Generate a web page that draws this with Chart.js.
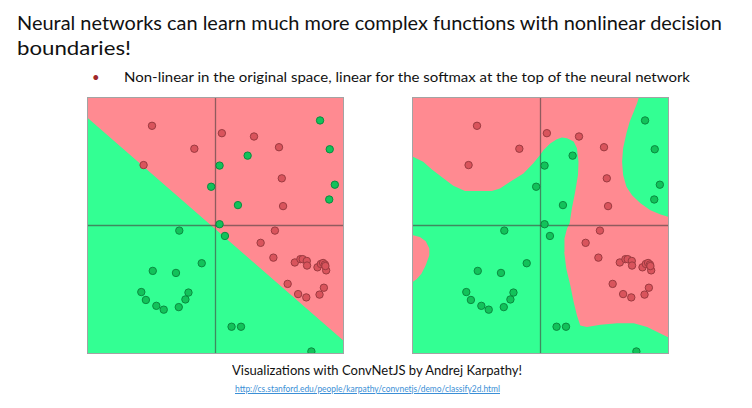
<!DOCTYPE html>
<html><head><meta charset="utf-8">
<script src="https://cdn.jsdelivr.net/npm/chart.js@4"></script>
<style>
html,body{margin:0;padding:0;background:#fff;width:752px;height:408px;overflow:hidden;}
.t{position:absolute;white-space:nowrap;font-family:Lato,"Open Sans",sans-serif;color:#111;transform-origin:0 0;line-height:1;}
.box{position:absolute;width:265px;height:265px;}
</style></head><body>
<div class="t" id="t1" data-w="705" style="left:17px;top:13px;font-size:19.5px;">Neural networks can learn much more complex functions with nonlinear decision</div>
<div class="t" id="t2" data-w="114" style="left:17px;top:38px;font-size:19.5px;">boundaries!</div>
<div class="t" style="left:92px;top:71px;font-size:13px;color:#a0282a;">•</div>
<div class="t" id="t3" data-w="566" style="left:124px;top:70.5px;font-size:13px;">Non-linear in the original space, linear for the softmax at the top of the neural network</div>
<div class="t" id="t4" data-w="290" style="left:232px;top:363px;font-size:14px;">Visualizations with ConvNetJS by Andrej Karpathy!</div>
<div class="t" id="t5" data-w="265" style="left:235px;top:383.5px;font-size:9px;color:#3b8fd6;text-decoration:underline;">http://cs.stanford.edu/people/karpathy/convnetjs/demo/classify2d.html</div>
<div class="box" style="left:83px;top:93px;"><canvas id="c1" width="265" height="265"></canvas></div>
<div class="box" style="left:408px;top:93px;"><canvas id="c2" width="265" height="265"></canvas></div>
<script>
// ---- data (range -5..5 on both axes) ----
const redPoints = [
 [-2.49,3.91],[-0.83,3.01],[-2.82,2.37],[0.25,3.62],[1.51,3.49],[2.49,3.07],[2.60,1.85],[2.65,0.76],
 [2.33,-0.20],[1.77,-0.68],[2.27,-1.26],[3.11,-1.45],[3.33,-1.32],[3.42,-1.32],[3.58,-1.39],[3.59,-1.57],
 [4.00,-1.64],[4.13,-1.51],[4.22,-1.47],[4.29,-1.53],[4.34,-1.76],[4.31,-1.59],[2.83,-2.29],[3.24,-2.69],
 [3.56,-2.82],[4.08,-2.71],[4.25,-2.44]
];
const greenPoints = [
 [4.10,4.12],[4.48,2.99],[1.26,2.74],[0.16,2.35],[-0.17,1.52],[0.88,0.80],[4.68,1.60],[4.46,1.02],
 [0.16,0.05],[0.37,-0.41],[-1.42,-0.20],[-0.54,-1.48],[-2.46,-1.78],[-1.55,-1.86],[-2.91,-2.61],[-2.73,-2.92],
 [-1.06,-2.63],[-1.18,-2.90],[-2.32,-3.15],[-2.03,-3.30],[-1.44,-3.20],[0.63,-3.97],[1.00,-3.97],[3.76,-4.94]
];
// linear classifier: red region
const linearRedRegion = [[-5,5],[5,5],[5,-4.5],[-5,4.21]];
// neural network: red regions
const nnRedRegion = [
 [-5,5],[3.85,5],[3.79,4.80],[3.66,4.47],[3.50,4.08],[3.37,3.62],[3.24,3.03],[3.20,2.50],[3.24,1.98],
 [3.37,1.52],[3.59,1.19],[3.92,0.87],[4.31,0.60],[4.71,0.43],[5,0.34],[5,-4.38],[4.64,-4.21],[4.18,-3.98],
 [3.66,-3.83],[3.00,-3.83],[2.35,-3.89],[1.82,-3.98],[1.56,-3.92],[1.43,-3.53],[1.30,-3.00],[1.17,-2.35],
 [1.01,-1.69],[0.93,-1.04],[0.94,-0.51],[1.04,-0.12],[1.14,0.08],[1.23,0.67],[1.36,1.32],[1.47,1.98],
 [1.49,2.50],[1.43,3.03],[1.30,3.29],[1.04,3.42],[0.84,3.45],[0.64,3.38],[0.38,3.22],[0.12,2.96],
 [-0.01,2.77],[-0.28,2.44],[-0.67,2.04],[-1.19,1.72],[-1.59,1.45],[-1.91,1.35],[-2.96,1.35],[-3.42,1.56],
 [-3.81,1.85],[-4.27,2.21],[-4.60,2.50],[-5,2.70]
];
const nnRedRegion2 = [
 [-5,-0.38],[-4.73,-0.45],[-4.50,-0.62],[-4.36,-0.90],[-4.36,-1.17],[-4.50,-1.56],[-4.67,-1.89],[-4.86,-2.11],[-5,-2.21]
];
const axisMin = -5, axisMax = 5;

// ---- styles ----
const BG_GREEN = '#33ff93', BG_RED = '#ff8a91';
const toXY = a => a.map(p => ({x:p[0], y:p[1]}));

function polygon(pts){
  const d = toXY(pts); d.push({...d[0]});
  return {data:d, showLine:true, fill:'shape', backgroundColor:BG_RED, borderColor:BG_RED, borderWidth:0,
          pointRadius:0, tension:0, clip:0, order:5};
}
function axisLine(pts){
  return {data:toXY(pts), showLine:true, fill:false, borderColor:'rgba(70,60,60,0.6)', borderWidth:1.3,
          pointRadius:0, clip:0, order:3};
}
function points(pts, fillC, strokeC){
  return {data:toXY(pts), showLine:false, pointRadius:3.7, pointHoverRadius:3.7, pointBorderWidth:1,
          backgroundColor:fillC, borderColor:strokeC, clip:0, order:1};
}
const frame = {
  id:'frame',
  beforeDraw(c){ const a=c.chartArea, g=c.ctx; g.save(); g.fillStyle=BG_GREEN; g.fillRect(a.left,a.top,a.right-a.left,a.bottom-a.top); g.restore(); },
  afterDraw(c){ const a=c.chartArea, g=c.ctx; g.save(); g.strokeStyle='#a3a3a3'; g.lineWidth=1; g.strokeRect(a.left-0.5,a.top-0.5,a.right-a.left+1,a.bottom-a.top+1); g.restore(); }
};
function make(id, regions){
  const ds = regions.map(polygon);
  ds.push(axisLine([[0,axisMin],[0,axisMax]]));
  ds.push(axisLine([[axisMin,0],[axisMax,0]]));
  ds.push(points(redPoints,'#d9545c','#9c3a40'));
  ds.push(points(greenPoints,'#12c25a','#0b8a40'));
  new Chart(document.getElementById(id), {
    type:'scatter',
    data:{datasets:ds},
    options:{responsive:false, animation:false, events:[],
      layout:{padding:5},
      plugins:{legend:{display:false}, tooltip:{enabled:false}},
      scales:{x:{type:'linear',min:axisMin,max:axisMax,display:false},
              y:{type:'linear',min:axisMin,max:axisMax,display:false}}},
    plugins:[frame]
  });
}
make('c1',[linearRedRegion]);
make('c2',[nnRedRegion,nnRedRegion2]);

// fit texts to measured widths
document.querySelectorAll('.t[data-w]').forEach(el=>{
  const w = el.getBoundingClientRect().width, tw = +el.dataset.w;
  el.style.transform = 'scaleX('+(tw/w)+')';
});
</script>
</body></html>
